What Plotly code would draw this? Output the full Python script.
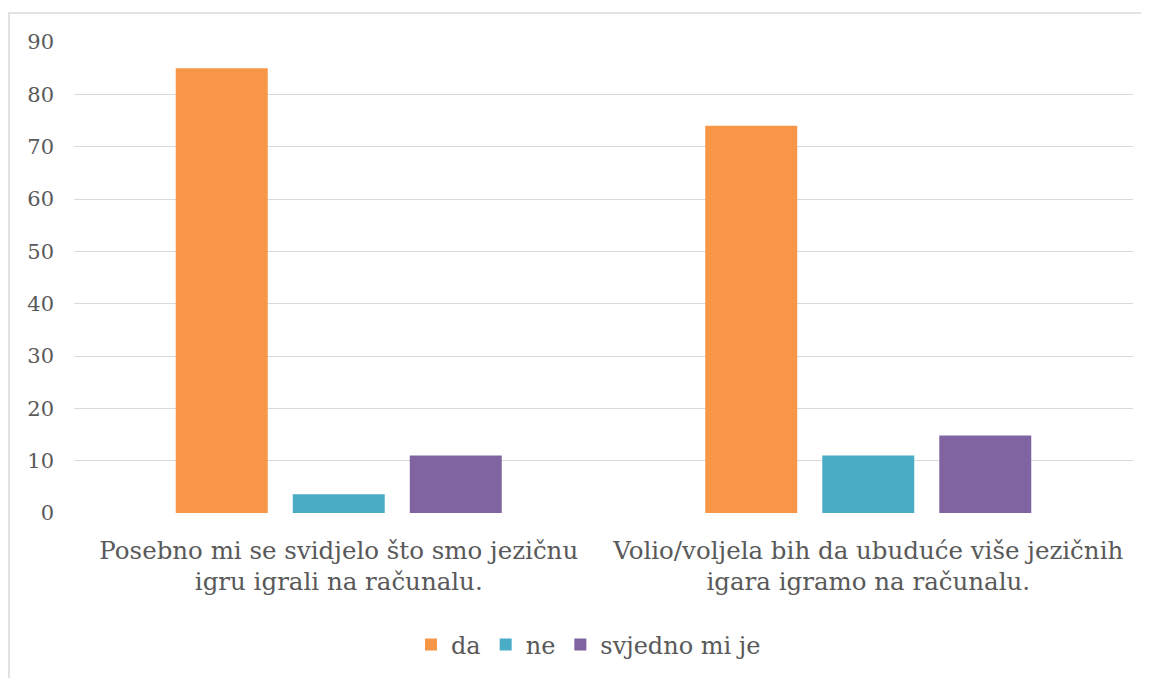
import plotly.graph_objects as go

categories = ["Posebno mi se svidjelo što smo jezičnu<br>igru igrali na računalu.",
              "Volio/voljela bih da ubuduće više jezičnih<br>igara igramo na računalu."]
series_names = ["da", "ne", "svjedno mi je"]
da_values = [85, 74]
ne_values = [3.6, 11]
svjedno_values = [11, 14.8]
y_ticks = [0, 10, 20, 30, 40, 50, 60, 70, 80, 90]

colors = ["#F79646", "#4BACC6", "#8064A2"]
FONT = "DejaVu Serif"
TXT = "#595959"

W, H = 1141, 670
L, R, T, B = 66, 16, 34, 164
PW, PH = W - L - R, H - T - B

fig = go.Figure()
for name, vals, c in zip(series_names, [da_values, ne_values, svjedno_values], colors):
    fig.add_trace(go.Bar(x=categories, y=vals, name=name, marker_color=c,
                         marker_line_width=0))

fig.update_layout(
    width=W, height=H,
    margin=dict(l=L, r=R, t=T, b=B),
    paper_bgcolor="white", plot_bgcolor="white",
    barmode="group", bargap=0.337, bargroupgap=0.214,
    font=dict(family=FONT, color=TXT),
    showlegend=True,
    legend=dict(orientation="h", x=0.5 - 15 / PW, xanchor="center", y=-(637 - 506) / PH,
                yanchor="middle",
                font=dict(size=24, color=TXT, family=FONT), itemsizing="constant",
                traceorder="normal"),
    shapes=[dict(type="rect", xref="paper", yref="paper",
                 x0=-(L - 1) / PW, x1=1.2, y0=-0.6, y1=1 + (T - 5) / PH,
                 line=dict(color="#D9D9D9", width=1.5), layer="below")],
)
fig.update_yaxes(range=[0, 90], tickvals=y_ticks, showgrid=True, gridcolor="#D9D9D9",
                 gridwidth=1.3, zeroline=False, showline=False, ticks="",
                 tickfont=dict(size=21, color=TXT, family=FONT), ticklabelstandoff=19)
fig.update_xaxes(showgrid=False, zeroline=False, showline=False, ticks="",
                 tickfont=dict(size=24.5, color=TXT, family=FONT), ticklabelstandoff=20)

fig.write_html("out.html")
